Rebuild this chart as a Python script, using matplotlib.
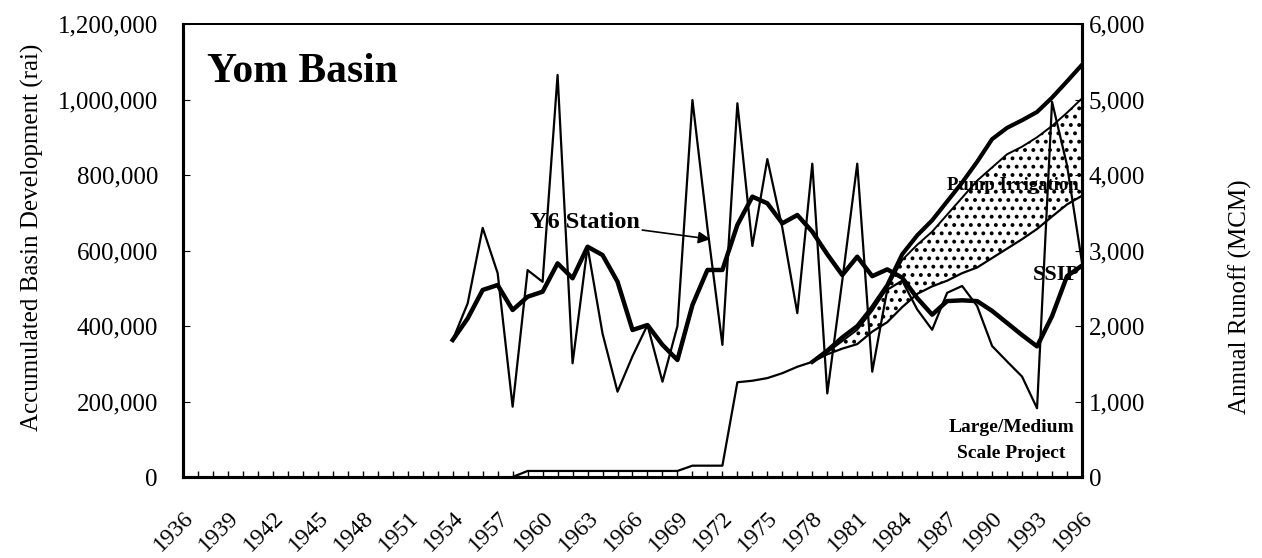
import matplotlib.pyplot as plt
import numpy as np
from matplotlib.ticker import FuncFormatter, MultipleLocator
from matplotlib.transforms import ScaledTranslation

plt.rcParams['font.family'] = ['Liberation Serif', 'DejaVu Serif']
plt.rcParams['hatch.linewidth'] = 1.6

# Y6 station annual runoff (MCM), right axis
run_years = np.arange(1954, 1997)
runoff = [1815, 2300, 3300, 2700, 931, 2740, 2585, 5325, 1506, 3050,
          1900, 1130, 1600, 2013, 1262, 2000, 4993, 3300, 1750, 4950,
          3060, 4210, 3300, 2170, 4150, 1107, 2600, 4150, 1395, 2480,
          2600, 2220, 1950, 2440, 2530, 2265, 1735, 1530, 1330, 910,
          4970, 4130, 2840]
runoff_avg = [1815, 2100, 2477, 2543, 2212, 2388, 2454, 2830, 2632, 3050,
              2940, 2587, 1947, 2013, 1750, 1550, 2278, 2742, 2742, 3338,
              3713, 3625, 3360, 3470, 3249, 2950, 2675, 2918, 2660, 2750,
              2640, 2370, 2150, 2330, 2340, 2330, 2200, 2040, 1880, 1730,
              2130, 2660, 2800]

# accumulated basin development (rai), left axis
lm_years = np.arange(1958, 1997)
large_medium = [0, 16000, 16000, 16000, 16000, 16000, 16000, 16000, 16000, 16000,
                16000, 16000, 30000, 30000, 30000, 251000, 255000, 262000, 275000, 292000,
                305000, 325000, 340000, 352000, 385000, 410000, 450000, 485000, 505000, 520000,
                540000, 555000, 580000, 605000, 630000, 657000, 690000, 722000, 745000]
dev_years = np.arange(1978, 1997)
lm_ssip = [305000, 330000, 360000, 390000, 440000, 500000, 575000, 615000, 650000, 695000,
           740000, 785000, 820000, 855000, 875000, 900000, 930000, 965000, 1003000]
total_dev = [305000, 335000, 370000, 400000, 450000, 508000, 590000, 640000, 680000, 730000,
             780000, 835000, 895000, 925000, 945000, 967000, 1005000, 1048000, 1092000]

label_years = np.arange(1936, 1997, 3)

fig = plt.figure(figsize=(12.62, 5.58), dpi=100)
ax = fig.add_axes([183 / 1262, 1 - 477 / 558, (1082 - 183) / 1262, (477 - 24) / 558])
ax2 = ax.twinx()

lm_on_dev = np.array(large_medium)[lm_years >= 1978]
ax.fill_between(dev_years, lm_on_dev, lm_ssip, facecolor='white', edgecolor='black',
                hatch='..', linewidth=0)
ax.plot(lm_years, large_medium, color='black', lw=1.6)
ax.plot(dev_years, lm_ssip, color='black', lw=1.4)
ax.plot(dev_years, total_dev, color='black', lw=3.0)

ax2.plot(run_years, runoff, color='black', lw=1.6)
ax2.plot(run_years, runoff_avg, color='black', lw=3.2)

ax.set_xlim(1936, 1996)
ax.set_ylim(0, 1200000)
ax2.set_ylim(0, 6000)
ax.set_xticks(label_years)
ax.set_xticklabels([str(y) for y in label_years], rotation=45, ha='right',
                   rotation_mode='anchor', fontsize=17)
shift = ScaledTranslation(-3 / 72, 0, fig.dpi_scale_trans)
for lab in ax.get_xticklabels():
    lab.set_transform(lab.get_transform() + shift)
ax.xaxis.set_minor_locator(MultipleLocator(1))
ax.yaxis.set_major_locator(MultipleLocator(200000))
ax2.yaxis.set_major_locator(MultipleLocator(1000))
ax.yaxis.set_major_formatter(FuncFormatter(lambda v, p: f'{v:,.0f}'))
ax2.yaxis.set_major_formatter(FuncFormatter(lambda v, p: f'{v:,.0f}'))

ax.tick_params(axis='x', which='both', direction='in', length=4, width=1, pad=22)
ax.tick_params(axis='y', direction='in', length=5, labelsize=18, pad=18)
ax2.tick_params(axis='y', direction='in', length=5, labelsize=18, pad=5)

for a in (ax, ax2):
    for s in ('left', 'right', 'bottom'):
        a.spines[s].set_linewidth(2.2)
    a.spines['top'].set_linewidth(1.4)

fig.text(32 / 1262, 1 - 237 / 558, 'Accumulated Basin Development (rai)', rotation=90,
         ha='center', va='center', fontsize=18)
fig.text(1240 / 1262, 1 - 297 / 558, 'Annual Runoff (MCM)', rotation=90,
         ha='center', va='center', fontsize=18)

ax.text(1937.6, 1046000, 'Yom Basin', fontsize=30, fontweight='bold', va='baseline')
ax2.annotate('Y6 Station', xy=(1971.2, 3150), xytext=(1962.8, 3300),
             fontsize=17.5, fontweight='bold', ha='center', va='baseline',
             arrowprops=dict(arrowstyle='-|>', color='black', lw=1.2,
                             shrinkA=58, shrinkB=0, mutation_scale=18))
ax.text(1995.8, 760000, 'Pump Irrigation', fontsize=13.5, fontweight='bold', ha='right', va='baseline')
ax.text(1994.3, 522000, 'SSIP', fontsize=16, fontweight='bold', ha='center', va='baseline')
ax.text(1991.3, 119000, 'Large/Medium', fontsize=14, fontweight='bold', ha='center', va='baseline')
ax.text(1991.3, 50000, 'Scale Project', fontsize=14, fontweight='bold', ha='center', va='baseline')

fig.savefig('out.png', dpi=100)
